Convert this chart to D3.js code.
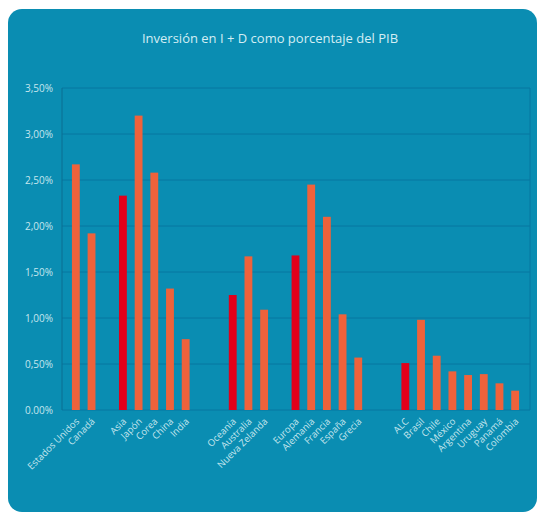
<!DOCTYPE html>
<html>
<head>
<meta charset="utf-8">
<script src="https://cdn.jsdelivr.net/npm/d3@7.9.0/dist/d3.min.js"></script>
<style>
  body { margin: 0; background: #fff; }
  svg { display: block; font-family: "Open Sans", Lato, sans-serif; }
</style>
</head>
<body>
<svg id="chart" width="540" height="517"></svg>
<script>
// categories, "" entries are empty slots between the groups
const categories = ["Estados Unidos", "Canadá", "", "Asia", "Japón", "Corea", "China", "India", "", "",
  "Oceanía", "Australia", "Nueva Zelanda", "", "Europa", "Alemania", "Francia", "España", "Grecia", "", "",
  "ALC", "Brasil", "Chile", "México", "Argentina", "Uruguay", "Panamá", "Colombia"];
const values = [2.67, 1.92, null, 2.33, 3.2, 2.58, 1.32, 0.77, null, null,
  1.25, 1.67, 1.09, null, 1.68, 2.45, 2.1, 1.04, 0.57, null, null,
  0.51, 0.98, 0.59, 0.42, 0.38, 0.39, 0.29, 0.21];
const regions = ["Asia", "Oceanía", "Europa", "ALC"];
const yTicks = [0, 0.5, 1, 1.5, 2, 2.5, 3, 3.5];
const yTickLabels = ["0.00%", "0,50%", "1,00%", "1,50%", "2,00%", "2,50%", "3,00%", "3,50%"];

const svg = d3.select('#chart');

svg.append('rect')
  .attr('x', 8).attr('y', 9)
  .attr('width', 529).attr('height', 503)
  .attr('rx', 14)
  .attr('fill', '#0a8db2');

svg.append('text')
  .attr('x', 270).attr('y', 43)
  .attr('text-anchor', 'middle')
  .attr('font-size', 13)
  .attr('fill', '#d4eef4')
  .text('Inversión en I + D como porcentaje del PIB');

const plotLeft = 62, plotRight = 530, plotTop = 88, plotBottom = 410;

let slots = categories.map((c, i) => i);
let x = d3.scaleBand().domain(slots).range([68, 523]).paddingInner(0.5).paddingOuter(0.25);
let y = d3.scaleLinear().domain([0, 3.5]).range([plotBottom, plotTop]);

// grid lines
svg.append('g')
  .selectAll('line')
  .data(yTicks)
  .join('line')
  .attr('x1', plotLeft).attr('x2', plotRight)
  .attr('y1', d => y(d)).attr('y2', d => y(d))
  .attr('stroke', '#0776a0')
  .attr('stroke-width', 1);

// frame
svg.append('line').attr('x1', plotLeft).attr('x2', plotLeft).attr('y1', plotTop).attr('y2', plotBottom)
  .attr('stroke', '#0a6f92');
svg.append('line').attr('x1', plotRight).attr('x2', plotRight).attr('y1', plotTop).attr('y2', plotBottom)
  .attr('stroke', '#0776a0');

// y labels
svg.append('g')
  .selectAll('text')
  .data(yTicks)
  .join('text')
  .attr('x', 53)
  .attr('y', d => y(d) + 3.5)
  .attr('text-anchor', 'end')
  .attr('font-size', 10)
  .attr('fill', '#c6e6ee')
  .text((d, i) => yTickLabels[i]);

// bars
let barData = slots.filter(i => values[i] != null);
svg.append('g')
  .selectAll('rect')
  .data(barData)
  .join('rect')
  .attr('x', i => x(i))
  .attr('width', x.bandwidth())
  .attr('y', i => y(values[i]))
  .attr('height', i => y(0) - y(values[i]))
  .attr('fill', i => regions.includes(categories[i]) ? '#e2001a' : '#ef623b');

// x labels
svg.append('g')
  .selectAll('text')
  .data(barData)
  .join('text')
  .attr('transform', i => `translate(${x(i) + x.bandwidth() / 2 + 4},${plotBottom + 12}) rotate(-45)`)
  .attr('text-anchor', 'end')
  .attr('font-size', 9.5)
  .attr('fill', '#c6e6ee')
  .text(i => categories[i]);
</script>
</body>
</html>
